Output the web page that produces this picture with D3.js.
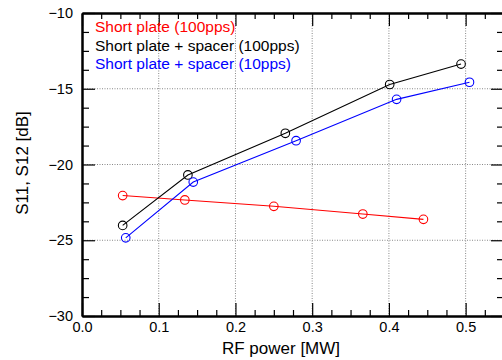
<!DOCTYPE html>
<html><head><meta charset="utf-8">
<script src="https://cdn.jsdelivr.net/npm/d3@7"></script>
<style>
body{margin:0;background:#fff;}
text{font-family:"Liberation Sans",Arial,Helvetica,sans-serif;}
</style></head>
<body><svg id="c" width="502" height="360"></svg>
<script>
// ---- data ----
const seriesNames = ["Short plate (100pps)", "Short plate + spacer (100pps)", "Short plate + spacer (10pps)"];
const seriesColors = ["#ff0000", "#000000", "#0000ff"];
const redX = [0.053, 0.134, 0.250, 0.366, 0.445];
const redY = [-22.05, -22.34, -22.76, -23.27, -23.62];
const blackX = [0.053, 0.138, 0.265, 0.401, 0.494];
const blackY = [-24.02, -20.69, -17.94, -14.72, -13.37];
const blueX = [0.057, 0.145, 0.279, 0.410, 0.505];
const blueY = [-24.84, -21.16, -18.43, -15.70, -14.57];
const xTicks = [0.0, 0.1, 0.2, 0.3, 0.4, 0.5];
const yTicks = [-30, -25, -20, -15, -10];
const xMinor = [0.025,0.05,0.075,0.125,0.15,0.175,0.225,0.25,0.275,0.325,0.35,0.375,0.425,0.45,0.475,0.525];
const yMinor = [-28.75,-27.5,-26.25,-23.75,-22.5,-21.25,-18.75,-17.5,-16.25,-13.75,-12.5,-11.25];
const xLabel = "RF power [MW]";
const yLabel = "S11, S12 [dB]";

const svg = d3.select("#c");
const L = 82, R = 504, T = 13, B = 316;
const x = d3.scaleLinear().domain([0, 0.55]).range([L, R]);
const y = d3.scaleLinear().domain([-30, -10]).range([B, T]);

// grid
const g = svg.append("g");
g.selectAll("line.gx").data(xTicks.filter(d => d > 0)).join("line")
  .attr("x1", d => x(d)).attr("x2", d => x(d)).attr("y1", T).attr("y2", B)
  .attr("stroke", "#888").attr("stroke-width", 1).attr("stroke-dasharray", "1,1.5");
g.selectAll("line.gy").data(yTicks.filter(d => d > -30 && d < -10)).join("line")
  .attr("y1", d => y(d)).attr("y2", d => y(d)).attr("x1", L).attr("x2", R)
  .attr("stroke", "#888").attr("stroke-width", 1).attr("stroke-dasharray", "1,1.5");

function style(sel, showLabels) {
  sel.select(".domain").attr("stroke", "#000").attr("stroke-width", 2);
  sel.selectAll(".tick line").attr("stroke", "#000").attr("stroke-width", 1.2);
  sel.selectAll("text").attr("font-size", 14.5).attr("fill", "#000")
     .style("font-family", '"Liberation Sans",Arial,sans-serif');
  if (!showLabels) sel.selectAll("text").remove();
}
// bottom
svg.append("g").attr("transform", `translate(0,${B})`)
  .call(d3.axisBottom(x).tickValues(xMinor).tickSize(-6).tickSizeOuter(0).tickFormat(""))
  .call(s => style(s, false));
svg.append("g").attr("transform", `translate(0,${B})`)
  .call(d3.axisBottom(x).tickValues(xTicks).tickSize(-13).tickSizeOuter(0).tickPadding(6).tickFormat(d3.format(".1f")))
  .call(s => style(s, true));
// top
svg.append("g").attr("transform", `translate(0,${T})`)
  .call(d3.axisTop(x).tickValues(xMinor).tickSize(-6).tickSizeOuter(0).tickFormat(""))
  .call(s => style(s, false));
svg.append("g").attr("transform", `translate(0,${T})`)
  .call(d3.axisTop(x).tickValues(xTicks).tickSize(-13).tickSizeOuter(0).tickFormat(""))
  .call(s => style(s, false));
// left
svg.append("g").attr("transform", `translate(${L},0)`)
  .call(d3.axisLeft(y).tickValues(yMinor).tickSize(-7).tickSizeOuter(0).tickFormat(""))
  .call(s => style(s, false));
svg.append("g").attr("transform", `translate(${L},0)`)
  .call(d3.axisLeft(y).tickValues(yTicks).tickSize(-13).tickSizeOuter(0).tickPadding(9).tickFormat(d3.format("d")))
  .call(s => style(s, true));
// right
svg.append("g").attr("transform", `translate(${R},0)`)
  .call(d3.axisRight(y).tickValues(yMinor).tickSize(-7).tickSizeOuter(0).tickFormat(""))
  .call(s => style(s, false));
svg.append("g").attr("transform", `translate(${R},0)`)
  .call(d3.axisRight(y).tickValues(yTicks).tickSize(-13).tickSizeOuter(0).tickFormat(""))
  .call(s => style(s, false));

// series
const series = [
  {xs: redX, ys: redY},
  {xs: blackX, ys: blackY},
  {xs: blueX, ys: blueY}
];
const line = d3.line().x(d => x(d[0])).y(d => y(d[1]));
series.forEach((s, i) => {
  const pts = s.xs.map((v, j) => [v, s.ys[j]]);
  svg.append("path").datum(pts).attr("d", line)
    .attr("fill", "none").attr("stroke", seriesColors[i]).attr("stroke-width", 1.1);
  svg.append("g").selectAll("circle").data(pts).join("circle")
    .attr("cx", d => x(d[0])).attr("cy", d => y(d[1])).attr("r", 4.3)
    .attr("fill", "none").attr("stroke", seriesColors[i]).attr("stroke-width", 1.1);
});

// legend
seriesNames.forEach((n, i) => {
  svg.append("text").attr("x", 95).attr("y", 32 + i * 18.5)
    .attr("font-size", 15.5).attr("fill", seriesColors[i]).text(n);
});

// axis titles
svg.append("text").attr("x", 281).attr("y", 354).attr("text-anchor", "middle")
  .attr("font-size", 17).text(xLabel);
svg.append("text").attr("transform", "translate(28,163) rotate(-90)").attr("text-anchor", "middle")
  .attr("font-size", 17).text(yLabel);
</script></body></html>
